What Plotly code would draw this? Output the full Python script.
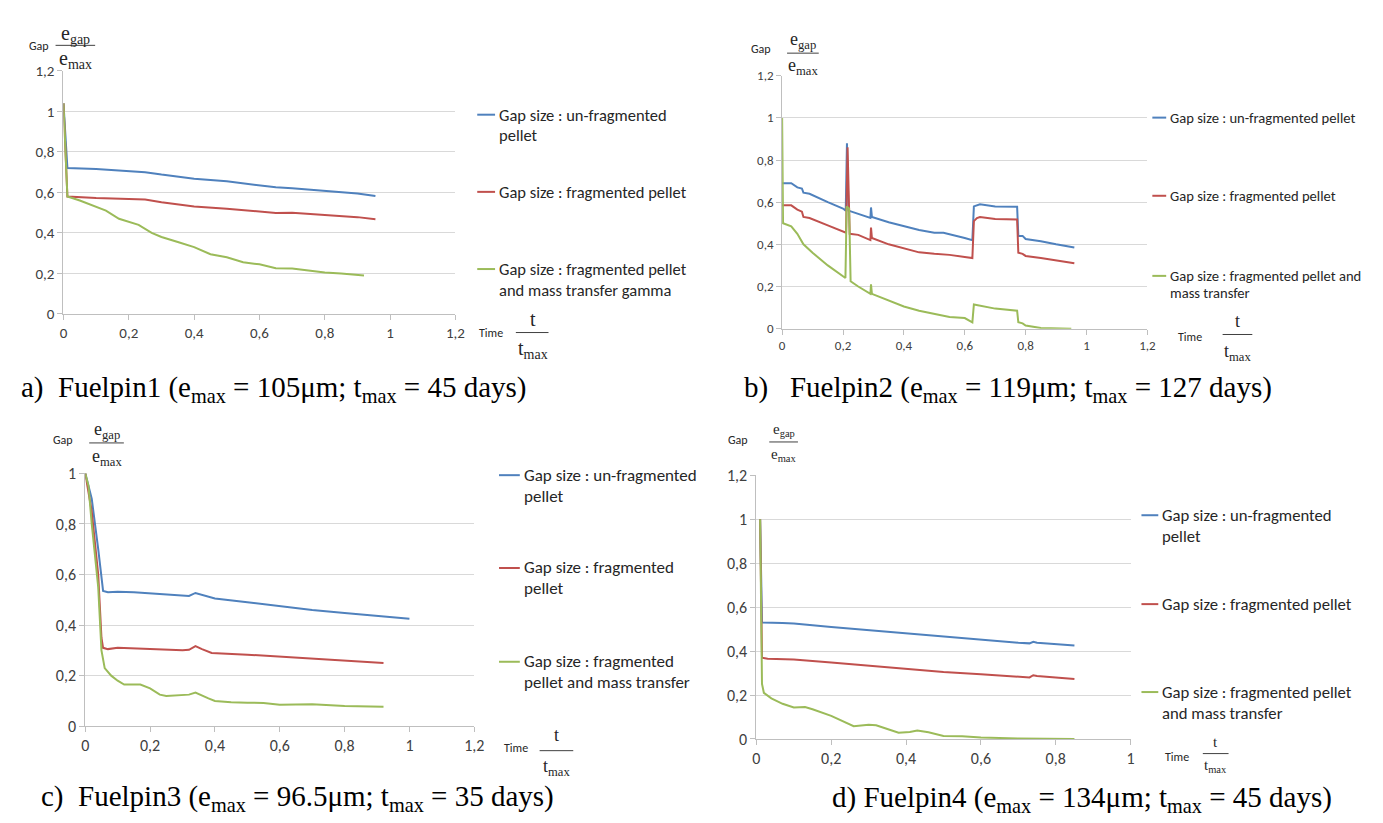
import plotly.graph_objects as go

W, H = 1383, 823

# ---------------- data ----------------
# Panel a : Fuelpin1
a_blue_x = [0, 0.012, 0.1, 0.2, 0.25, 0.3, 0.4, 0.5, 0.6, 0.65, 0.7, 0.8, 0.9, 0.955]
a_blue_y = [1.04, 0.72, 0.715, 0.705, 0.70, 0.688, 0.668, 0.655, 0.637, 0.625, 0.62, 0.606, 0.595, 0.582]
a_red_x = [0, 0.012, 0.1, 0.15, 0.2, 0.25, 0.3, 0.35, 0.4, 0.5, 0.6, 0.65, 0.7, 0.75, 0.8, 0.9, 0.955]
a_red_y = [1.04, 0.58, 0.572, 0.57, 0.566, 0.565, 0.552, 0.54, 0.53, 0.52, 0.505, 0.498, 0.50, 0.495, 0.488, 0.478, 0.468]
a_green_x = [0, 0.012, 0.05, 0.1, 0.13, 0.17, 0.2, 0.23, 0.27, 0.3, 0.35, 0.4, 0.45, 0.5, 0.55, 0.6, 0.65, 0.7, 0.75, 0.8, 0.85, 0.92]
a_green_y = [1.04, 0.58, 0.56, 0.53, 0.51, 0.47, 0.455, 0.44, 0.40, 0.38, 0.355, 0.33, 0.295, 0.28, 0.255, 0.245, 0.226, 0.225, 0.215, 0.205, 0.2, 0.19]

# Panel b : Fuelpin2
b_blue_x = [0, 0.03, 0.05, 0.065, 0.07, 0.09, 0.15, 0.2, 0.209, 0.213, 0.218, 0.25, 0.29, 0.292, 0.295, 0.35, 0.4, 0.45, 0.5, 0.53, 0.6, 0.625, 0.63, 0.65, 0.7, 0.772, 0.776, 0.79, 0.8, 0.85, 0.9, 0.96]
b_blue_y = [0.69, 0.69, 0.67, 0.665, 0.645, 0.64, 0.60, 0.57, 0.56, 0.88, 0.56, 0.545, 0.525, 0.575, 0.53, 0.505, 0.485, 0.468, 0.455, 0.455, 0.43, 0.42, 0.58, 0.59, 0.58, 0.578, 0.44, 0.44, 0.425, 0.415, 0.40, 0.385]
b_red_x = [0, 0.03, 0.05, 0.065, 0.07, 0.09, 0.15, 0.2, 0.21, 0.215, 0.222, 0.25, 0.29, 0.292, 0.295, 0.35, 0.4, 0.45, 0.5, 0.55, 0.6, 0.625, 0.63, 0.64, 0.65, 0.7, 0.772, 0.776, 0.79, 0.8, 0.85, 0.9, 0.96]
b_red_y = [0.585, 0.585, 0.565, 0.555, 0.53, 0.525, 0.49, 0.46, 0.455, 0.86, 0.45, 0.445, 0.42, 0.48, 0.43, 0.40, 0.38, 0.362, 0.355, 0.35, 0.34, 0.335, 0.51, 0.525, 0.53, 0.52, 0.518, 0.36, 0.355, 0.345, 0.335, 0.325, 0.31]
b_green_x = [0, 0.003, 0.03, 0.05, 0.07, 0.1, 0.15, 0.2, 0.208, 0.212, 0.22, 0.225, 0.25, 0.29, 0.292, 0.295, 0.35, 0.4, 0.45, 0.5, 0.55, 0.6, 0.625, 0.63, 0.65, 0.7, 0.772, 0.776, 0.79, 0.8, 0.85, 0.95]
b_green_y = [1.0, 0.5, 0.485, 0.45, 0.40, 0.36, 0.30, 0.245, 0.24, 0.58, 0.57, 0.225, 0.20, 0.165, 0.21, 0.165, 0.135, 0.105, 0.085, 0.07, 0.055, 0.05, 0.03, 0.115, 0.11, 0.095, 0.085, 0.03, 0.025, 0.015, 0.003, 0.0]

# Panel c : Fuelpin3
c_blue_x = [0, 0.02, 0.04, 0.05, 0.055, 0.07, 0.1, 0.15, 0.2, 0.25, 0.3, 0.32, 0.34, 0.36, 0.4, 0.5, 0.6, 0.7, 0.8, 0.9, 1.0]
c_blue_y = [1.0, 0.9, 0.7, 0.6, 0.535, 0.53, 0.532, 0.53, 0.525, 0.52, 0.515, 0.515, 0.527, 0.52, 0.505, 0.49, 0.475, 0.46, 0.448, 0.437, 0.425]
c_red_x = [0, 0.02, 0.04, 0.05, 0.055, 0.07, 0.1, 0.2, 0.3, 0.32, 0.34, 0.36, 0.39, 0.5, 0.6, 0.7, 0.8, 0.92]
c_red_y = [1.0, 0.85, 0.6, 0.35, 0.31, 0.305, 0.31, 0.305, 0.30, 0.302, 0.317, 0.305, 0.29, 0.283, 0.275, 0.268, 0.26, 0.25]
c_green_x = [0, 0.01, 0.02, 0.04, 0.05, 0.06, 0.08, 0.1, 0.12, 0.15, 0.17, 0.2, 0.23, 0.25, 0.3, 0.32, 0.34, 0.36, 0.38, 0.4, 0.45, 0.5, 0.55, 0.6, 0.65, 0.7, 0.8, 0.92]
c_green_y = [1.0, 0.95, 0.8, 0.55, 0.3, 0.23, 0.2, 0.18, 0.165, 0.165, 0.165, 0.15, 0.125, 0.12, 0.122, 0.125, 0.133, 0.12, 0.11, 0.10, 0.095, 0.093, 0.092, 0.085, 0.085, 0.087, 0.08, 0.077]

# Panel d : Fuelpin4
d_blue_x = [0.01, 0.015, 0.07, 0.1, 0.2, 0.3, 0.4, 0.5, 0.6, 0.7, 0.73, 0.74, 0.75, 0.8, 0.85]
d_blue_y = [1.0, 0.53, 0.528, 0.525, 0.51, 0.495, 0.48, 0.465, 0.452, 0.438, 0.435, 0.442, 0.438, 0.43, 0.425]
d_red_x = [0.01, 0.015, 0.03, 0.1, 0.2, 0.3, 0.4, 0.5, 0.6, 0.7, 0.73, 0.74, 0.75, 0.8, 0.85]
d_red_y = [1.0, 0.37, 0.365, 0.362, 0.348, 0.333, 0.318, 0.305, 0.295, 0.283, 0.28, 0.29, 0.287, 0.28, 0.273]
d_green_x = [0.01, 0.012, 0.014, 0.015, 0.02, 0.04, 0.07, 0.1, 0.13, 0.15, 0.2, 0.23, 0.26, 0.3, 0.32, 0.35, 0.38, 0.41, 0.43, 0.46, 0.5, 0.55, 0.6, 0.7, 0.85]
d_green_y = [1.0, 0.6, 0.38, 0.25, 0.21, 0.185, 0.16, 0.143, 0.145, 0.135, 0.105, 0.08, 0.058, 0.065, 0.062, 0.045, 0.028, 0.032, 0.038, 0.03, 0.013, 0.012, 0.007, 0.002, 0.0]

y_ticks_12 = [0, 0.2, 0.4, 0.6, 0.8, 1.0, 1.2]
y_ticks_10 = [0, 0.2, 0.4, 0.6, 0.8, 1.0]
x_ticks_12 = [0, 0.2, 0.4, 0.6, 0.8, 1.0, 1.2]
x_ticks_10 = [0, 0.2, 0.4, 0.6, 0.8, 1.0]

NB = "\u00a0"
captions = [
    "a)" + NB + NB + "Fuelpin1 (e<sub>max</sub> = 105μm; t<sub>max</sub> = 45 days)",
    "b)" + NB + NB + NB + "Fuelpin2 (e<sub>max</sub> = 119μm; t<sub>max</sub> = 127 days)",
    "c)" + NB + NB + "Fuelpin3 (e<sub>max</sub> = 96.5μm; t<sub>max</sub> = 35 days)",
    "d) Fuelpin4 (e<sub>max</sub> = 134μm; t<sub>max</sub> = 45 days)",
]

legend_a = [["Gap size : un-fragmented", "pellet"], ["Gap size : fragmented pellet"],
            ["Gap size : fragmented pellet", "and mass transfer gamma"]]
legend_b = [["Gap size : un-fragmented pellet"], ["Gap size : fragmented pellet"],
            ["Gap size : fragmented pellet and", "mass transfer"]]
legend_c = [["Gap size : un-fragmented", "pellet"], ["Gap size : fragmented", "pellet"],
            ["Gap size : fragmented", "pellet and mass transfer"]]
legend_d = [["Gap size : un-fragmented", "pellet"], ["Gap size : fragmented pellet"],
            ["Gap size : fragmented pellet", "and mass transfer"]]

BLUE, RED, GREEN = "#4F81BD", "#C0504D", "#9BBB59"
SANS = "Carlito, Lato, 'Open Sans', sans-serif"
SERIF = "'Liberation Serif', 'DejaVu Serif', serif"


def fx(p):
    return p / W


def fy(p):
    return 1 - p / H


panels = [
    dict(series=[(a_blue_x, a_blue_y, BLUE), (a_red_x, a_red_y, RED), (a_green_x, a_green_y, GREEN)],
         xpx=(52, 448), ypx=(304, 55), xr=1.2, yr=1.2, xt=x_ticks_12, yt=y_ticks_12, tickfs=15,
         legend=legend_a, leg_line=(470, 488), leg_text=490, leg_rows=[100, 179, 258], leg_dy=21, leg_fs=16.5,
         gap=(27, 30), gap_fs=12, frac_top=(64, 18, 44, 84, 29, 43), time=(484, 323),
         tfrac=(526, 309, 509, 542, 323, 340), frac_fs=20, cap=(7, 381)),
    dict(series=[(b_blue_x, b_blue_y, BLUE), (b_red_x, b_red_y, RED), (b_green_x, b_green_y, GREEN)],
         xpx=(778, 1147), ypx=(319, 60), xr=1.2, yr=1.2, xt=x_ticks_12, yt=y_ticks_12, tickfs=13,
         legend=legend_b, leg_line=(1152, 1166), leg_text=1168, leg_rows=[103, 183, 265], leg_dy=18, leg_fs=14.6,
         gap=(757, 33), gap_fs=12, frac_top=(799, 24, 783, 815, 37, 51), time=(1190, 328),
         tfrac=(1238, 311, 1223, 1253, 325, 343), frac_fs=18, cap=(737, 381)),
    dict(series=[(c_blue_x, c_blue_y, BLUE), (c_red_x, c_red_y, RED), (c_green_x, c_green_y, GREEN)],
         xpx=(74, 467), ypx=(726, 467), xr=1.2, yr=1.0, xt=x_ticks_12, yt=y_ticks_10, tickfs=16,
         legend=legend_c, leg_line=(492, 513), leg_text=515, leg_rows=[469, 564, 660], leg_dy=21.5, leg_fs=17,
         gap=(52, 433), gap_fs=12, frac_top=(96, 423, 78, 113, 436, 451), time=(509, 748),
         tfrac=(550, 735, 533, 567, 751, 768), frac_fs=18, cap=(27, 799)),
    dict(series=[(d_blue_x, d_blue_y, BLUE), (d_red_x, d_red_y, RED), (d_green_x, d_green_y, GREEN)],
         xpx=(752, 1130), ypx=(739, 469), xr=1.0, yr=1.2, xt=x_ticks_10, yt=y_ticks_12, tickfs=16,
         legend=legend_d, leg_line=(1141, 1158), leg_text=1160, leg_rows=[510, 601, 691], leg_dy=21.5, leg_fs=16.7,
         gap=(733, 433), gap_fs=12, frac_top=(780, 423, 765, 794, 435, 448), time=(1177, 757),
         tfrac=(1216, 742, 1203, 1229, 754, 767), frac_fs=15, cap=(826, 800)),
]

fig = go.Figure()
layout = dict(width=W, height=H, margin=dict(l=0, r=0, t=0, b=0), paper_bgcolor="white",
              plot_bgcolor="white", showlegend=False, separators=", ")
annotations = []
shapes = []

for i, p in enumerate(panels):
    n = "" if i == 0 else str(i + 1)
    xa, ya = "x" + n, "y" + n
    for xs, ys, col in p["series"]:
        fig.add_trace(go.Scatter(x=xs, y=ys, mode="lines", line=dict(color=col, width=2),
                                 xaxis=xa, yaxis=ya, hoverinfo="skip"))
    layout["xaxis" + n] = dict(domain=[fx(p["xpx"][0]), fx(p["xpx"][1])], range=[0, p["xr"]],
                               tickvals=p["xt"], showgrid=False, zeroline=False, showline=True,
                               linecolor="#BFBFBF", linewidth=1, ticks="outside", ticklen=5,
                               tickcolor="#BFBFBF", tickfont=dict(family=SANS, size=p["tickfs"], color="#404040"),
                               anchor=ya, fixedrange=True)
    layout["yaxis" + n] = dict(domain=[fy(p["ypx"][0]), fy(p["ypx"][1])], range=[0, p["yr"] * 1.0005],
                               tickvals=p["yt"], showgrid=True, gridcolor="#D9D9D9", gridwidth=1,
                               zeroline=False, showline=True, linecolor="#BFBFBF", linewidth=1,
                               ticks="outside", ticklen=5, tickcolor="#BFBFBF",
                               tickfont=dict(family=SANS, size=p["tickfs"], color="#404040"),
                               anchor=xa, fixedrange=True)
    # legend
    cols = [BLUE, RED, GREEN]
    for lines, row, col in zip(p["legend"], p["leg_rows"], cols):
        shapes.append(dict(type="line", xref="paper", yref="paper", x0=fx(p["leg_line"][0]),
                           x1=fx(p["leg_line"][1]), y0=fy(row), y1=fy(row), line=dict(color=col, width=2)))
        for k, t in enumerate(lines):
            annotations.append(dict(text=t, x=fx(p["leg_text"]), y=fy(row + k * p["leg_dy"]), xref="paper",
                                    yref="paper", xanchor="left", yanchor="middle", showarrow=False,
                                    font=dict(family=SANS, size=p["leg_fs"], color="#262626")))
    # "Gap" label and fraction
    gx, gy = p["gap"]
    annotations.append(dict(text="Gap", x=fx(gx), y=fy(gy), xref="paper", yref="paper", xanchor="center",
                            yanchor="middle", showarrow=False,
                            font=dict(family=SANS, size=p["gap_fs"], color="#262626")))
    cx, ty, lx0, lx1, ly, by = p["frac_top"]
    annotations.append(dict(text="e<sub>gap</sub>", x=fx(cx), y=fy(ty), xref="paper", yref="paper",
                            xanchor="center", yanchor="middle", showarrow=False,
                            font=dict(family=SERIF, size=p["frac_fs"], color="#262626")))
    annotations.append(dict(text="e<sub>max</sub>", x=fx(cx), y=fy(by), xref="paper", yref="paper",
                            xanchor="center", yanchor="middle", showarrow=False,
                            font=dict(family=SERIF, size=p["frac_fs"], color="#262626")))
    shapes.append(dict(type="line", xref="paper", yref="paper", x0=fx(lx0), x1=fx(lx1), y0=fy(ly), y1=fy(ly),
                       line=dict(color="#404040", width=1)))
    # "Time" label and fraction
    tx, tyy = p["time"]
    annotations.append(dict(text="Time", x=fx(tx), y=fy(tyy), xref="paper", yref="paper", xanchor="center",
                            yanchor="middle", showarrow=False,
                            font=dict(family=SANS, size=p["gap_fs"], color="#262626")))
    cx, ty, lx0, lx1, ly, by = p["tfrac"]
    annotations.append(dict(text="t", x=fx(cx), y=fy(ty), xref="paper", yref="paper",
                            xanchor="center", yanchor="middle", showarrow=False,
                            font=dict(family=SERIF, size=p["frac_fs"], color="#262626")))
    annotations.append(dict(text="t<sub>max</sub>", x=fx(cx), y=fy(by), xref="paper", yref="paper",
                            xanchor="center", yanchor="middle", showarrow=False,
                            font=dict(family=SERIF, size=p["frac_fs"], color="#262626")))
    shapes.append(dict(type="line", xref="paper", yref="paper", x0=fx(lx0), x1=fx(lx1), y0=fy(ly), y1=fy(ly),
                       line=dict(color="#404040", width=1)))
    # caption
    cpx, cpy = p["cap"]
    annotations.append(dict(text=captions[i], x=fx(cpx), y=fy(cpy), xref="paper", yref="paper",
                            xanchor="left", yanchor="middle", showarrow=False,
                            font=dict(family=SERIF, size=29, color="#000000")))

layout["annotations"] = annotations
layout["shapes"] = shapes
fig.update_layout(**layout)
fig.write_html("out.html")
